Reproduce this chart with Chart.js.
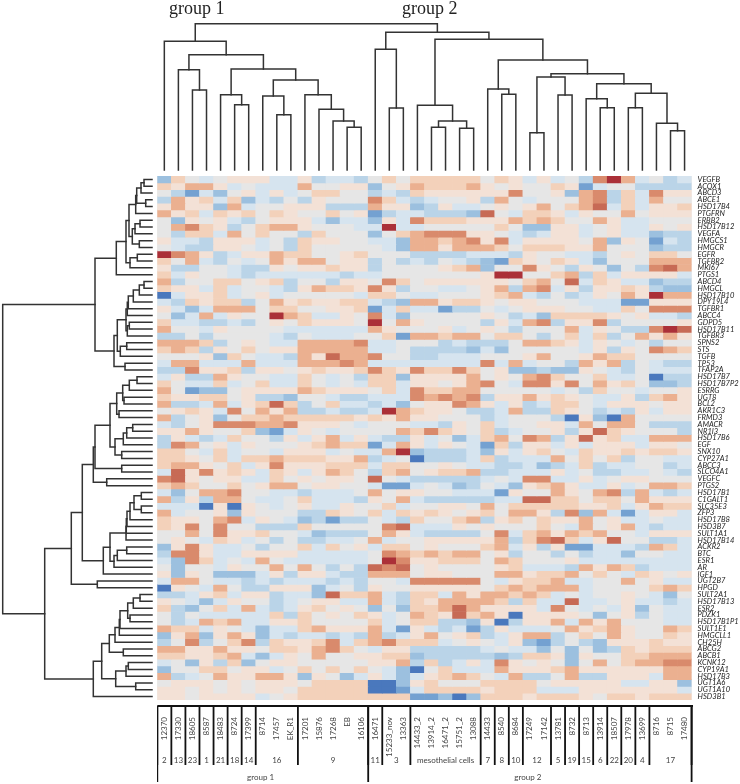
<!DOCTYPE html>
<html>
<head>
<meta charset="utf-8">
<title>Clustered heatmap</title>
<script src="https://cdn.jsdelivr.net/npm/chart.js@4"></script>
<style>
  html, body { margin: 0; background: #fff; }
  #page { position: relative; width: 740px; height: 784px; overflow: hidden; }
  canvas { position: absolute; }
</style>
</head>
<body>
<div id="page">
  <canvas id="topTree" width="583" height="176" style="left:157px;top:0"></canvas>
  <canvas id="leftTree" width="157" height="524" style="left:0;top:176px"></canvas>
  <canvas id="heat" width="583" height="608" style="left:157px;top:176px"></canvas>
  <canvas id="groups" width="583" height="84" style="left:157px;top:700px"></canvas>
</div>
<script>
const samples = ['12370','17330','18605','8587','18483','8724','17399','8714','17457','EK_R1','17201','15876','17268','EB','16106','16471','15233_nov','13363','14433_2','13914_2','16471_2','15751_2','13088','14433','8540','8684','17249','17142','13781','8732','8713','13914','18507','17978','13699','8716','8715','17480'];

const genes = ['VEGFB','ACOX1','ABCD3','ABCE1','HSD17B4','PTGFRN','ERBB2','HSD17B12','VEGFA','HMGCS1','HMGCR','EGFR','TGFBR2','MKI67','PTGS1','ABCD4','HMGCL','HSD17B10','DPY19L4','TGFBR1','ABCC4','GDPD5','HSD17B11','TGFBR3','SPNS2','STS','TGFB','TP53','TFAP2A','HSD17B7','HSD17B7P2','ESRRG','UGT8','BCL2','AKR1C3','FRMD3','AMACR','NR1I3','HSD17B6','EGF','SNX10','CYP27A1','ABCC3','SLCO4A1','VEGFC','PTGS2','HSD17B1','C1GALT1','SLC35E3','ZFP3','HSD17B8','HSD3B7','SULT1A1','HSD17B14','ACKR2','BTC','ESR1','AR','IGF1','UGT2B7','HPGD','SULT2A1','HSD17B13','ESR2','PDZK1','HSD17B1P1','SULT1E1','HMGCLL1','CH25H','ABCG2','ABCB1','KCNK12','CYP19A1','HSD17B3','UGT1A6','UGT1A10','HSD3B1'];

// expression level per gene (row) and sample (column), -5 dark blue to 6 dark red
const heatValues = [
  [-3,2,0,-1,0,1,1,1,-1,-1,1,-2,-1,-1,-2,0,2,0,2,2,2,2,2,0,2,1,-1,1,-1,0,-2,4,6,3,-1,0,-2,-1],
  [2,1,3,3,1,-1,0,-1,-1,-1,3,0,0,1,1,-3,0,1,3,2,2,2,3,1,0,1,0,0,2,1,-4,-1,0,0,-2,-2,-2,-2],
  [0,-2,-4,-1,-3,0,1,-1,1,-1,0,2,2,0,0,-2,-1,-2,2,1,1,1,1,1,1,4,0,0,1,-3,3,4,-2,2,-1,4,1,1],
  [-2,3,1,2,-1,2,-3,-1,-2,0,-2,1,0,0,0,4,2,-1,-2,-1,0,0,1,-2,3,0,-1,0,0,0,3,4,-2,2,-1,3,0,0],
  [1,3,1,1,-3,3,-1,0,0,1,1,1,-2,-2,-2,3,1,1,-3,-2,1,-1,-1,0,1,0,1,3,0,2,3,5,-1,2,-1,1,1,2],
  [3,1,2,-1,2,1,2,0,2,1,0,0,2,0,1,-4,-2,-1,-1,-2,-2,-2,-3,5,0,-1,2,2,1,-1,1,0,0,3,0,1,1,1],
  [0,-3,1,0,1,-1,-2,0,1,1,1,-1,-3,-1,-1,-3,1,-1,4,2,2,2,1,1,1,3,2,3,2,0,0,3,1,-1,-1,0,0,0],
  [0,3,4,2,1,-2,0,2,3,3,1,0,0,0,-1,-1,6,-1,-1,0,0,0,0,0,2,0,-3,-3,1,1,-1,0,1,-1,-1,1,0,1],
  [0,-2,2,2,-1,3,0,2,0,0,-2,2,0,0,0,-3,0,2,3,4,4,4,1,1,0,-1,-2,-1,1,1,-1,0,1,-1,-1,-3,-2,-2],
  [1,-1,-1,-2,1,1,1,-1,0,-2,2,1,1,0,0,-1,-1,-3,3,3,2,3,4,1,4,-1,1,1,1,1,0,3,-3,1,0,-4,-1,-2],
  [0,-1,-2,-2,1,1,0,-1,0,-2,2,0,0,0,0,0,-1,-3,3,3,1,3,3,3,2,0,2,2,2,1,1,3,0,0,0,-3,-2,-2],
  [6,4,3,1,-2,-1,1,1,3,2,2,0,0,1,2,0,0,0,-2,-2,-2,-2,-1,-1,-1,-2,1,0,0,-1,-1,-2,0,1,0,2,2,0],
  [2,0,3,-1,-2,0,-1,0,3,1,3,3,0,1,1,-2,0,-2,-1,-2,0,-1,-2,-3,-4,2,1,0,2,1,-1,-3,0,0,0,3,3,3],
  [1,-2,-2,0,0,-1,-2,-2,1,0,1,1,2,1,1,-2,0,0,0,0,1,2,3,-3,0,0,4,1,0,-2,1,0,-3,0,-2,4,5,3],
  [2,-1,1,0,0,-1,-2,-1,-1,-1,-1,-1,-1,-2,-1,-1,0,0,0,0,0,0,0,1,6,6,0,0,2,3,-2,2,-1,1,1,1,1,-1],
  [3,-2,0,0,2,2,0,1,2,-2,0,0,-2,1,1,0,4,2,0,1,1,1,1,1,1,0,2,3,0,5,-1,2,1,-1,-1,-3,-2,-2],
  [2,1,1,-1,2,-1,0,0,-1,-2,1,3,2,2,1,4,1,-2,0,0,-1,-1,0,1,3,-2,3,4,-1,1,-2,1,1,2,1,-2,-3,-3],
  [-5,-1,1,1,2,-1,0,1,-1,0,0,0,0,0,-1,2,2,0,-1,-1,0,0,0,1,2,3,-1,-2,0,-2,-1,1,0,3,1,6,3,3],
  [-1,-2,2,1,2,2,-2,0,3,1,2,1,1,2,2,-1,-2,-3,3,3,1,2,2,1,0,1,1,0,0,0,-1,-1,-1,-4,-4,1,1,1],
  [1,-1,-3,-1,3,3,3,0,2,2,0,0,1,1,2,-4,-1,2,-1,-1,-4,-2,-2,0,-1,0,1,1,1,0,0,-1,-1,2,0,4,4,4],
  [0,-3,-1,3,-1,1,0,0,6,3,2,-1,-1,1,0,4,-1,-3,0,0,0,0,0,1,0,-2,-1,-3,2,2,2,2,1,0,1,-1,-1,-2],
  [2,-1,-1,-2,-2,-1,-2,0,1,0,2,1,1,1,0,6,0,3,1,0,0,0,0,-2,1,-1,3,4,-2,1,1,4,-2,0,0,0,0,1],
  [3,0,0,-1,1,0,0,0,0,-1,-1,-1,-1,-1,-1,3,1,0,0,0,1,-1,0,1,0,-2,0,0,0,3,-1,1,0,-2,-2,4,6,5],
  [-2,-2,0,-2,0,0,0,0,-1,-2,0,-1,-1,-1,0,0,2,-4,3,3,2,3,3,0,2,2,0,-2,0,2,-1,2,-2,0,3,1,3,1],
  [3,3,3,2,-2,0,1,0,-1,-1,3,3,3,3,4,-1,-1,0,0,0,-2,-1,-2,-2,-2,0,3,3,2,1,-1,1,0,-1,0,-2,0,0],
  [2,3,2,-2,1,0,2,0,1,1,3,3,3,3,3,-1,-1,0,-2,-2,-2,-2,-3,-1,-3,0,0,0,0,0,-1,1,-2,1,0,4,3,2],
  [0,0,0,1,-3,2,0,-1,-1,-2,3,1,5,3,3,4,0,0,-2,-2,-1,-1,-1,0,0,0,1,3,0,0,1,3,2,2,0,0,0,0],
  [-1,3,3,-1,-1,-1,3,-1,-1,-1,3,3,3,4,3,-1,-1,-1,-1,-1,-1,-1,-1,4,-1,3,-1,0,0,-2,3,1,3,-2,0,-1,-2,-2],
  [-2,-2,4,1,1,2,-2,1,1,0,1,2,1,1,2,4,2,1,4,2,2,4,2,0,1,-3,-3,-2,-3,-3,1,0,-1,-2,0,-1,-1,-1],
  [-1,1,-2,-2,3,1,0,0,-1,-1,2,0,-1,0,-2,2,2,-3,1,1,1,1,3,0,1,0,3,4,2,0,0,2,-1,-1,0,-5,-2,-2],
  [2,0,-1,-1,2,-1,0,2,-1,-1,2,0,-1,0,-1,2,2,-1,1,1,0,1,3,4,0,-1,4,4,1,4,0,3,1,2,0,-3,-3,-2],
  [3,0,-4,-3,-3,0,1,1,1,1,3,2,1,1,1,0,2,-1,4,2,2,3,3,0,0,0,0,0,-1,0,-2,2,0,0,-1,0,0,1],
  [2,1,1,2,2,0,1,-2,-2,-3,0,0,-1,-2,-2,-1,-1,-1,4,3,4,3,4,-2,1,1,3,1,2,1,0,-1,-1,1,-2,2,3,1],
  [3,-2,-2,-1,3,-1,1,2,5,2,-2,0,2,-1,-1,-2,-1,-3,0,1,1,4,3,1,-1,1,-2,-1,2,2,0,-1,1,1,1,0,1,1],
  [0,1,2,1,-1,4,0,3,1,3,-2,-2,-1,-2,-2,-1,6,3,2,1,1,0,-2,-2,-1,3,-2,-2,2,1,0,-2,-1,-2,1,-1,1,1],
  [3,-2,0,1,-3,0,2,2,3,2,2,2,2,2,1,2,1,3,1,1,0,0,0,-2,-1,0,0,0,-2,-5,1,-3,-5,3,0,0,0,0],
  [-1,-2,0,1,4,4,4,3,3,4,1,1,1,0,-1,0,0,0,-1,-1,-2,1,0,2,-1,0,0,1,1,-1,3,0,3,3,0,-2,-2,-2],
  [1,1,3,1,0,0,2,-3,-4,-1,1,0,-1,0,0,0,0,3,2,4,2,1,0,2,-2,-1,0,0,1,-2,1,5,2,1,0,0,0,-2],
  [-2,1,-1,-2,-1,2,0,0,-2,1,-1,1,3,-1,1,-1,-2,-2,1,-1,0,-3,-1,2,3,0,4,3,-2,1,5,1,2,-1,-1,3,3,3],
  [-2,4,3,0,1,-1,1,0,0,0,1,2,3,2,2,-4,-1,3,1,-1,1,0,-1,-4,2,-2,1,1,-1,1,-1,1,1,1,-1,1,1,0],
  [2,2,0,-1,2,-1,0,0,-1,1,1,1,-1,0,-1,-1,3,6,-3,-2,-2,-2,-1,-3,1,-1,1,2,0,-1,2,1,1,2,1,2,2,1],
  [2,2,1,0,2,-1,2,2,3,2,2,2,1,1,3,-2,-1,0,-5,-2,-2,-2,-1,2,-2,-1,-1,-1,3,0,2,0,2,-2,0,0,-1,-1],
  [2,3,3,1,0,2,-1,1,4,1,1,1,2,2,2,-1,2,2,0,0,1,0,-1,-1,-2,-2,-1,-3,-2,-1,2,-2,-1,-1,0,0,-2,-1],
  [-1,5,1,4,1,2,1,-1,2,1,-1,1,3,2,0,-2,2,3,0,1,2,2,3,-2,-2,-1,-1,-1,1,-1,0,-2,-2,-1,-1,0,-1,-2],
  [4,5,1,0,1,1,-1,-1,2,0,1,0,1,1,0,5,0,-1,-2,-2,-2,-2,-2,-1,0,-1,4,4,-1,-1,1,-1,0,1,1,0,0,0],
  [2,3,2,0,0,2,0,1,3,3,0,1,1,0,0,-1,-4,-4,-1,0,-1,-3,-2,0,-1,-3,1,2,3,1,-1,-1,1,-1,0,3,3,2],
  [-1,-3,0,3,3,4,0,0,-1,-1,-2,-1,-1,-1,0,3,0,1,1,0,0,-1,-1,-1,-4,1,0,0,3,1,0,3,4,-2,3,-1,-2,-1],
  [3,-2,1,-2,3,3,0,-1,-1,0,2,-1,-1,-1,-2,1,0,3,-1,-2,-2,-2,-2,-2,-1,-1,5,5,2,2,0,2,2,0,3,1,1,1],
  [-1,-1,-1,-5,1,-5,1,0,-1,0,1,-1,-1,1,0,0,2,-1,0,0,1,1,0,3,0,2,2,2,2,2,1,1,2,-1,1,3,2,2],
  [3,-1,0,0,1,-3,1,0,0,0,-2,-2,2,1,0,2,-1,2,1,2,1,0,1,2,0,3,3,1,-2,4,-3,3,-1,-4,-1,1,1,-1],
  [2,1,1,0,3,4,-1,1,0,-1,-3,-2,-4,-2,-2,0,-1,-2,2,0,0,2,3,-2,1,2,0,2,1,1,3,0,1,-1,-1,0,-1,-1],
  [2,1,4,0,4,0,0,-2,-2,-2,2,0,0,0,0,0,4,5,-1,-1,-1,1,0,1,0,0,0,2,0,-1,3,0,1,3,-1,-2,-1,-1],
  [0,0,3,0,4,1,1,2,0,0,-1,-3,-2,-2,-2,0,3,1,-1,-2,-2,-2,-2,0,4,-1,2,3,1,3,2,3,0,0,-1,1,1,1],
  [0,1,0,-1,2,1,-1,0,-2,0,-2,-2,-1,-1,0,3,-1,0,0,1,1,1,1,1,3,-2,2,4,5,2,-1,1,5,0,0,-2,-2,-1],
  [-3,1,4,1,-1,-1,0,-2,0,0,2,-1,2,0,1,-1,2,2,0,1,0,0,0,2,3,-1,1,-2,1,-4,-4,-1,-1,-1,-2,3,2,-1],
  [-2,4,4,1,-1,-1,1,1,1,1,-1,-1,-1,-1,-1,0,4,3,2,3,2,3,3,0,1,-2,0,0,-2,0,-2,-1,-1,-3,0,0,-1,-1],
  [-1,-3,4,2,-1,0,-1,3,0,-1,-1,-1,-1,-1,-1,0,6,4,1,1,2,2,2,0,3,2,0,0,0,1,-1,-1,-1,-1,-1,-1,-1,-1],
  [0,-3,0,0,-1,1,0,0,3,0,3,0,-2,0,-2,5,4,5,0,1,0,0,0,0,1,2,-1,-1,-1,-2,3,1,3,2,-2,-1,-1,-1],
  [1,-3,1,0,-3,-3,-3,-1,1,-2,1,1,-1,-2,-2,3,3,3,0,1,1,0,0,0,3,3,1,2,2,3,0,2,0,-1,2,1,0,1],
  [-1,3,3,0,-1,-1,-2,-1,-2,-1,-1,-1,-2,-1,-2,0,0,-1,4,4,4,4,4,0,-1,1,2,2,3,-1,-1,0,0,3,0,1,-1,-1],
  [-5,1,0,-1,3,0,-2,-2,1,1,1,-3,-1,0,-2,1,0,0,1,1,1,1,1,0,2,3,2,3,3,3,-1,0,0,0,0,2,3,2],
  [-2,-2,-1,1,2,-1,1,1,-2,-1,-1,-3,5,2,2,3,-1,-2,2,2,-1,3,1,3,3,2,3,2,-1,0,-1,0,0,1,0,-1,-3,0],
  [1,0,-1,-3,-1,1,0,0,-2,-1,0,1,1,-1,-1,3,-1,-2,2,1,3,3,3,3,2,-2,2,-1,-1,5,-1,-1,0,1,-1,-1,-2,-1],
  [2,-2,-3,0,2,-1,3,-1,-2,-1,1,2,0,1,0,-3,0,-3,2,2,3,5,3,1,1,1,1,-1,4,0,-1,0,-1,1,-3,0,-1,-1],
  [0,-2,0,-1,-1,-1,-1,-1,2,-2,2,0,1,0,2,1,-1,0,3,2,1,5,2,3,1,-5,1,1,1,1,0,-3,0,1,-2,0,-1,-1],
  [0,-2,-1,3,2,3,-1,-1,1,1,2,0,0,0,0,2,-1,0,2,2,-2,-2,-3,1,-5,-2,1,1,3,-1,3,1,3,0,0,0,-1,-1],
  [3,2,2,-1,1,0,-1,-3,-1,-1,2,3,1,1,1,3,-1,-4,1,-1,-2,-1,-4,-2,1,-1,-1,-1,0,3,1,2,3,1,0,0,3,2],
  [-3,1,3,-3,1,3,1,-3,-1,-2,-1,-1,-2,-1,-2,3,-2,-1,1,3,0,1,2,-2,-1,1,3,3,-2,0,2,0,3,1,0,0,2,1],
  [-2,0,4,-2,0,2,4,-2,2,1,1,2,4,-1,2,3,4,2,2,2,-1,0,1,0,-1,1,-3,-4,-2,0,-2,-3,1,1,1,2,1,1],
  [3,3,1,1,3,1,1,0,2,2,1,3,4,2,0,-1,1,1,-2,-2,-2,-2,-2,-1,0,-1,-1,-3,0,-3,0,-3,-2,2,1,2,2,2],
  [2,2,1,1,2,3,-1,-3,-1,1,0,3,0,0,1,1,2,2,-3,-2,-2,-2,-2,-2,-3,-2,2,2,1,-3,1,0,0,2,2,3,3,3],
  [-1,0,-3,1,-2,2,-3,0,1,1,0,0,0,0,0,1,1,3,-2,2,-2,-1,1,-1,4,1,0,1,0,-3,0,3,0,2,3,3,4,4],
  [-3,0,0,2,2,0,1,1,-1,0,2,0,2,0,2,0,-1,-3,-5,0,2,-1,-1,-1,3,1,1,1,2,3,1,1,1,1,1,1,3,3],
  [3,-2,-1,0,3,1,1,3,3,1,-3,1,0,-3,-1,1,-1,-3,-1,1,2,3,2,0,-1,3,-2,-2,0,3,-2,-2,1,1,1,-1,3,3],
  [0,1,1,1,0,1,0,1,1,1,0,2,2,2,2,-5,-5,-3,1,2,0,0,0,2,2,2,2,0,1,1,1,1,1,-1,-1,1,1,-3],
  [1,1,0,1,0,1,0,1,1,0,2,2,2,2,2,-5,-5,-4,-1,2,2,2,2,1,2,2,2,-1,-1,-1,1,1,1,1,1,1,1,-1],
  [1,1,0,1,1,1,1,-1,0,1,2,2,2,2,2,2,2,2,-4,-4,-3,-5,-3,2,2,2,1,2,2,2,1,0,2,2,1,2,2,2]
];

const levelColors = ['#4a78bd','#74a1d1','#9cc0df','#bad4e8','#d6e4ef','#e6e6e6','#f3e1d6','#f3d1ba','#ebb090','#d98a6c','#c76a55','#ab3038'];

// tree merges: [child a, child b, merge distance]. ids above the leaf count are earlier merges
const sampleLinks = [
  [2,3,80],[1,38,100.3],[5,6,65.3],[4,40,75.3],[8,9,55.3],[7,42,74],[13,14,42.7],[12,44,49],[11,45,60.7],[10,46,75.3],
  [43,47,90],[41,48,101],[39,49,115.3],[0,50,128.7],[16,17,62],[15,52,120.7],[19,20,42.7],[21,22,41.7],[54,55,49],[18,56,64.7],
  [24,25,75.7],[23,58,81],[26,27,37.3],[28,29,75],[60,61,93],[31,32,62.3],[30,63,71.3],[36,37,39.3],[35,65,46.7],[33,34,62.3],
  [67,66,76.7],[64,68,86.3],[62,69,96.3],[59,70,110],[57,71,130.7],[53,72,137.7],[51,73,146.3]
];
const geneLinks = [
  [0,1,8],[77,2,11],[3,4,6.3],[78,79,15.3],[80,5,16.3],[6,7,12],[82,8,17],[9,10,12.7],[83,84,19.7],[81,85,23],
  [11,12,14.7],[87,13,22],[86,88,26],[89,14,35.7],[15,16,8],[91,17,12.7],[92,18,18.7],[93,19,23.7],[94,20,24.7],[21,22,22.7],
  [96,23,24.7],[95,97,26],[24,25,25.3],[99,26,31.7],[98,100,34.7],[27,28,27],[101,102,38],[90,103,57],[29,30,15],[105,31,22.7],
  [32,33,28],[106,107,29.3],[34,35,33],[108,109,35.3],[36,37,19.3],[111,38,25.3],[112,39,28.7],[40,41,30.3],[113,114,37],[110,115,42],
  [42,43,30.3],[116,117,57],[44,45,45.3],[118,119,58.7],[46,47,10.7],[48,49,10.7],[121,122,18],[123,50,22],[124,51,25],[125,52,25.7],
  [126,53,26],[54,55,25.3],[128,56,34.7],[129,57,38],[127,130,42],[131,58,48.7],[120,132,69.7],[59,60,54.7],[133,134,80.7],[61,62,12],
  [136,63,18.7],[64,65,22],[137,138,24.3],[139,66,32],[140,67,32.7],[141,68,37],[69,70,28.7],[142,143,42.7],[71,72,23.7],[145,73,26],
  [74,75,16.3],[146,147,36.3],[144,148,50.3],[149,76,58.7],[135,150,107.3],[104,151,149.3]
];

// sample groups below the heatmap, in columns
const groupNames = ['2','13','23','1','21','18','14','16','9','11','3','mesothelial cells','7','8','10','12','5','19','15','6','22','20','4','17'];
const groupSizes = [1,1,1,1,1,1,1,3,5,1,2,5,1,1,1,2,1,1,1,1,1,1,1,3];
const clusterNames = ['group 1','group 2'];
const clusterEnds = [0,15,38];

const treeColor = '#333';

// turns merges into 4 point brackets, [position, distance]
function treeBrackets(links, leafCount) {
  const pos = [], dist = [];
  for (let i = 0; i < leafCount; i++) { pos[i] = i + 0.5; dist[i] = 0; }
  return links.map((l, i) => {
    const id = leafCount + i;
    pos[id] = (pos[l[0]] + pos[l[1]]) / 2;
    dist[id] = l[2];
    return [[pos[l[0]], dist[l[0]]], [pos[l[0]], l[2]], [pos[l[1]], l[2]], [pos[l[1]], dist[l[1]]]];
  });
}

function lineDataset(points) {
  return {
    data: points, showLine: true, pointRadius: 0, borderColor: treeColor,
    borderWidth: 1.5, tension: 0, clip: false, borderCapStyle: 'square'
  };
}

// axes that sit flush against the plot, no room kept for half labels
function flush(s) {
  s.paddingLeft = s.paddingRight = s.paddingTop = s.paddingBottom = 0;
}

const hidden = { display: false };
const quiet = { legend: hidden, tooltip: { enabled: false }, title: hidden };

// top tree + the two headings
new Chart(document.getElementById('topTree'), {
  type: 'scatter',
  data: {
    datasets: treeBrackets(sampleLinks, samples.length).map(b =>
      lineDataset(b.map(p => ({ x: p[0], y: p[1] }))))
  },
  options: {
    responsive: false, animation: false, events: [],
    layout: { padding: { left: 0.3, right: 48.4, top: 0, bottom: 6 } },
    scales: {
      x: { type: 'linear', min: 0, max: samples.length, display: false },
      y: { type: 'linear', min: 0, max: 170, display: false }
    },
    plugins: quiet
  },
  plugins: [{
    id: 'headings',
    afterDraw(chart) {
      const c = chart.ctx;
      c.save();
      c.fillStyle = '#222';
      c.font = '18px "Liberation Serif"';
      c.textBaseline = 'alphabetic';
      c.fillText(clusterNames[0], 12, 14);
      c.fillText(clusterNames[1], 245, 14);
      c.restore();
    }
  }]
});

// left tree
new Chart(document.getElementById('leftTree'), {
  type: 'scatter',
  data: {
    datasets: treeBrackets(geneLinks, genes.length).map(b =>
      lineDataset(b.map(p => ({ x: p[1], y: p[0] }))))
  },
  options: {
    responsive: false, animation: false, events: [],
    scales: {
      x: { type: 'linear', min: -5, max: 152, reverse: true, display: false },
      y: { type: 'linear', min: 0, max: genes.length, reverse: true, display: false }
    },
    plugins: quiet
  }
});

// heatmap cells are floating bars, one dataset per gene
new Chart(document.getElementById('heat'), {
  type: 'bar',
  data: {
    labels: samples,
    datasets: genes.map((g, r) => ({
      label: g,
      data: samples.map(() => [r, r + 1]),
      backgroundColor: heatValues[r].map(v => levelColors[v + 5]),
      grouped: false,
      barPercentage: 1,
      categoryPercentage: 1,
      borderWidth: 0
    }))
  },
  options: {
    responsive: false, animation: false, events: [],
    layout: { padding: { left: 0.3 } },
    scales: {
      x: {
        grid: hidden, border: hidden,
        ticks: {
          autoSkip: false, minRotation: 90, maxRotation: 90, padding: 9,
          color: '#444', font: { family: 'Lato', size: 8 }
        },
        afterFit(s) { s.height = 84; flush(s); }
      },
      y: { type: 'linear', min: 0, max: genes.length, reverse: true, display: false },
      genes: {
        type: 'category', labels: genes, position: 'right', offset: true,
        grid: { display: false, drawTicks: false }, border: hidden,
        ticks: {
          autoSkip: false, padding: 6, color: '#222',
          font: { family: 'Lato', size: 7.6, style: 'italic' }
        },
        afterFit(s) { s.width = 48.4; flush(s); }
      }
    },
    plugins: quiet
  },
  plugins: [{
    id: 'cellBackdrop',
    beforeDatasetsDraw(chart) {
      const a = chart.chartArea;
      chart.ctx.save();
      chart.ctx.fillStyle = '#ece4de';
      chart.ctx.fillRect(a.left, a.top, a.right - a.left, a.bottom - a.top);
      chart.ctx.restore();
    }
  }]
});

// group brackets under the heatmap
const boxTop = 6, boxBottom = 65, clusterBottom = 82;
const groupEdges = [0];
groupSizes.forEach((n, i) => groupEdges.push(groupEdges[i] + n));

const bracketLines = [[{ x: 0, y: boxTop }, { x: samples.length + 0.1, y: boxTop }]]
  .concat(groupEdges.map(e => [{ x: e, y: boxTop }, { x: e, y: boxBottom }]))
  .concat(clusterEnds.map(e => [{ x: e, y: boxTop }, { x: e, y: clusterBottom }]));

new Chart(document.getElementById('groups'), {
  type: 'scatter',
  data: {
    datasets: bracketLines.map(l => ({
      data: l, showLine: true, pointRadius: 0, borderColor: '#111', borderWidth: 1.8, clip: false
    }))
  },
  options: {
    responsive: false, animation: false, events: [],
    layout: { padding: { left: 0.3, right: 48.4 } },
    scales: {
      x: { type: 'linear', min: 0, max: samples.length, display: false },
      y: { type: 'linear', min: 0, max: 84, reverse: true, display: false }
    },
    plugins: quiet
  },
  plugins: [{
    id: 'groupText',
    afterDraw(chart) {
      const c = chart.ctx, x = chart.scales.x, y = chart.scales.y;
      c.save();
      c.fillStyle = '#444';
      c.textAlign = 'center';
      c.textBaseline = 'middle';
      c.font = '8px Lato';
      groupNames.forEach((name, i) => {
        c.fillText(name, x.getPixelForValue((groupEdges[i] + groupEdges[i + 1]) / 2), y.getPixelForValue(60));
      });
      clusterNames.forEach((name, i) => {
        c.fillText(name, x.getPixelForValue((clusterEnds[i] + clusterEnds[i + 1]) / 2 - 0.15), y.getPixelForValue(77));
      });
      c.restore();
    }
  }]
});
</script>
</body>
</html>
